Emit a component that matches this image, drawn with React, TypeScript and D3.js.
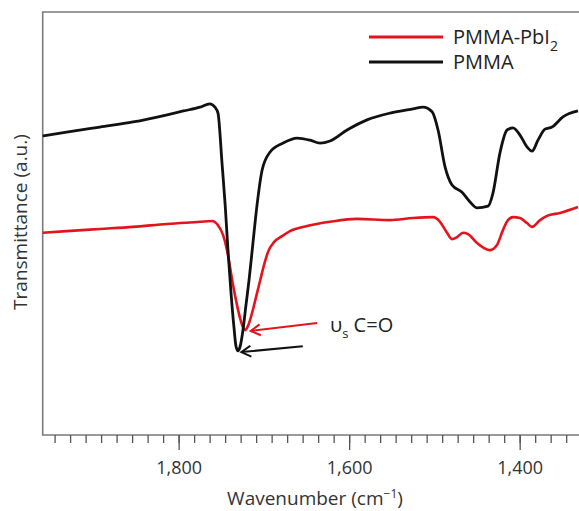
import React from "react";
import * as d3 from "d3";

// wavenumber (cm-1) and transmittance (a.u., 0 at the bottom axis, 100 at the top frame)
const pmmaWn = [1960, 1932, 1893, 1854, 1814, 1795, 1775.5, 1764, 1758, 1754.4, 1749.7, 1746, 1742.7, 1739.2, 1735.6, 1733.3, 1731, 1728.6, 1725.1, 1721.6, 1718, 1713.3, 1708.6, 1702.7, 1693.3, 1678.1, 1661.6, 1646.4, 1634.7, 1623, 1603, 1579.6, 1552.6, 1525.6, 1513.9, 1503.3, 1496.3, 1488.1, 1479.9, 1468.2, 1458.8, 1450.6, 1437.7, 1431.9, 1423.7, 1415.4, 1408.4, 1400.2, 1392, 1386.1, 1379.1, 1370.9, 1362.7, 1349.8, 1332.2];
const pmmaT = [70.7, 71.6, 72.8, 74.0, 75.7, 76.6, 77.5, 78.3, 77.5, 76.1, 64.3, 54.4, 43.7, 33.8, 25.3, 21.0, 19.9, 20.8, 24.8, 30.7, 36.6, 45.6, 54.4, 62.6, 66.9, 69.0, 70.2, 69.7, 69.0, 69.5, 72.1, 74.5, 76.1, 77.1, 77.5, 76.4, 72.1, 63.4, 59.1, 57.4, 55.1, 53.7, 54.1, 57.2, 66.7, 72.1, 72.6, 70.9, 68.1, 67.1, 69.7, 72.3, 72.8, 75.2, 76.6];

const pbWn = [1960, 1932, 1893, 1854, 1814, 1775.5, 1761.4, 1754.4, 1748.5, 1743.8, 1740.3, 1736.8, 1732.1, 1728.6, 1725.1, 1722.7, 1719.2, 1714.5, 1709.8, 1705.1, 1700.4, 1695.7, 1688.7, 1679.3, 1670, 1650, 1623, 1591.4, 1552.6, 1525.6, 1502.2, 1494, 1485.8, 1479.9, 1474, 1467, 1461.2, 1450.6, 1442.4, 1435.4, 1427.2, 1420.1, 1414.3, 1408.4, 1400.2, 1392, 1386.1, 1376.7, 1368.5, 1353.3, 1332.2];
const pbT = [47.8, 48.2, 48.7, 49.2, 49.9, 50.4, 50.6, 49.6, 47.3, 43.7, 39.7, 35.5, 30.7, 27.7, 25.5, 24.8, 25.8, 28.8, 32.6, 36.4, 40.2, 43.3, 45.6, 47.0, 48.2, 49.4, 50.4, 51.1, 50.8, 51.3, 51.5, 50.4, 47.8, 46.3, 46.8, 47.8, 47.5, 45.4, 44.2, 43.7, 44.9, 48.5, 50.8, 51.5, 51.3, 50.1, 49.2, 50.8, 51.8, 52.5, 53.9];

const xTicks = [1800, 1600, 1400];
const seriesNames = ["PMMA-PbI", "PMMA"];
const seriesColors = ["#e3141b", "#111111"];

// arrows: [tailWn, tailT, tipWn, tipT]
const arrows = [
  [1638, 26.5, 1716, 24.6],
  [1655, 21.0, 1727, 19.6],
];

const W = 579;
const H = 511;
const left = 42.7;
const top = 12;
const bottom = 435;

const App = () => {
  const x = d3.scaleLinear().domain([1960, 1331]).range([left, W]);
  const y = d3.scaleLinear().domain([0, 100]).range([bottom, top]);

  const line = d3
    .line<number>()
    .curve(d3.curveMonotoneX);

  const path = (wn: number[], t: number[]) =>
    line.x((_, i) => x(wn[i])).y((_, i) => y(t[i]))(wn) || "";

  // minor ticks: 11 per 200 cm-1
  const minor: number[] = [];
  for (let k = -40; k <= 40; k++) {
    const v = 1800 - (k * 200) / 11;
    if (x(v) > left + 2 && x(v) < W) minor.push(v);
  }

  const arrowHead = (a: number[], color: string, key: number) => {
    const x1 = x(a[0]), y1 = y(a[1]), x2 = x(a[2]), y2 = y(a[3]);
    const ang = Math.atan2(y2 - y1, x2 - x1);
    const len = 11;
    const s = Math.PI / 6;
    const p1 = [x2 - len * Math.cos(ang - s), y2 - len * Math.sin(ang - s)];
    const p2 = [x2 - len * Math.cos(ang + s), y2 - len * Math.sin(ang + s)];
    return (
      <g key={key} stroke={color} strokeWidth={2} fill="none">
        <line x1={x1} y1={y1} x2={x2} y2={y2} />
        <path d={`M${p1[0]},${p1[1]}L${x2},${y2}L${p2[0]},${p2[1]}`} />
      </g>
    );
  };

  const font = "'Open Sans', 'DejaVu Sans', sans-serif";

  return (
    <svg width={W} height={H} style={{ position: "absolute", left: 0, top: 0 }} fontFamily={font}>
      <rect width={W} height={H} fill="#fff" />
      {/* frame */}
      <path d={`M${W},${top}H${left}V${bottom}H${W}`} fill="none" stroke="#7a7a7a" strokeWidth={1.6} />
      {minor.map((v, i) => (
        <line key={i} x1={x(v)} x2={x(v)} y1={bottom} y2={bottom + 8} stroke="#555" strokeWidth={1.3} />
      ))}
      {xTicks.map((v) => (
        <g key={v}>
          <line x1={x(v)} x2={x(v)} y1={bottom} y2={bottom + 15} stroke="#555" strokeWidth={1.3} />
          <text x={x(v)} y={474} textAnchor="middle" fontSize={18} fill="#333">
            {d3.format(",")(v)}
          </text>
        </g>
      ))}
      <text x={315} y={505} textAnchor="middle" fontSize={19} fill="#333">
        Wavenumber (cm<tspan dy={-7} fontSize={12}>−1</tspan><tspan dy={7}>)</tspan>
      </text>
      <text transform={`translate(27,222) rotate(-90)`} textAnchor="middle" fontSize={19} fill="#333">
        Transmittance (a.u.)
      </text>

      <path d={path(pbWn, pbT)} fill="none" stroke={seriesColors[0]} strokeWidth={2.6} />
      <path d={path(pmmaWn, pmmaT)} fill="none" stroke={seriesColors[1]} strokeWidth={2.8} />

      {arrowHead(arrows[0], seriesColors[0], 0)}
      {arrowHead(arrows[1], seriesColors[1], 1)}
      <text x={330} y={332} fontSize={20} fill="#222">
        υ<tspan dy={6} fontSize={13}>s</tspan><tspan dy={-6}> C=O</tspan>
      </text>

      {/* legend */}
      {seriesNames.map((n, i) => (
        <g key={n} transform={`translate(369,${37 + i * 25})`}>
          <line x1={0} x2={74} stroke={seriesColors[i]} strokeWidth={3} />
          <text x={84} y={7} fontSize={20} fill="#222">
            {n}
            {i === 0 ? <tspan dy={7} fontSize={14}>2</tspan> : null}
          </text>
        </g>
      ))}
    </svg>
  );
};

export default App;
